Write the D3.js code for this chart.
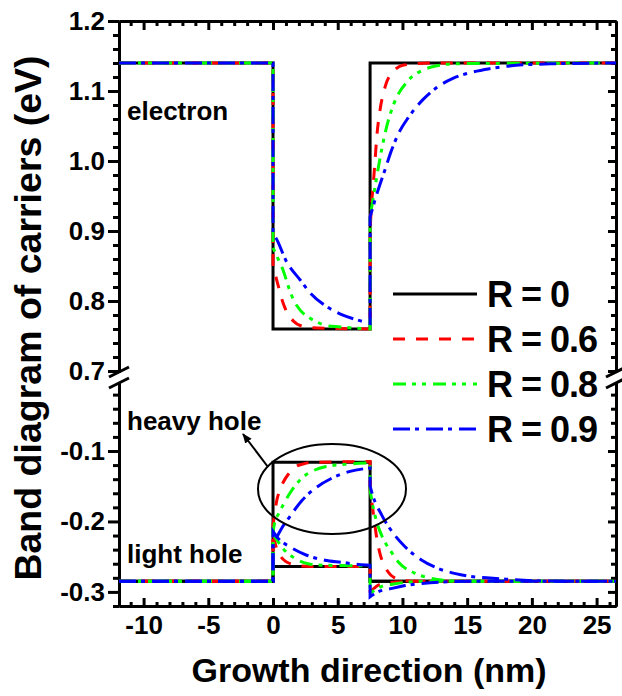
<!DOCTYPE html>
<html>
<head>
<meta charset="utf-8">
<script src="https://cdn.jsdelivr.net/npm/d3@7"></script>
<style>
    body { margin: 0; background: #fff; }
    svg text { font-family: "Liberation Sans", Arial, sans-serif; font-weight: bold; fill: #000; }
</style>
</head>
<body>
<div id="chart"></div>
<script>
// tick labels
const xTicks = [-10, -5, 0, 5, 10, 15, 20, 25];
const yTopTicks = [0.7, 0.8, 0.9, 1.0, 1.1, 1.2];
const yBottomTicks = [-0.3, -0.2, -0.1];
const legendLabels = ["R = 0", "R = 0.6", "R = 0.8", "R = 0.9"];

// conduction band (electron), [position nm, energy eV]
const electronR0 = [[-11.9, 1.14], [0, 1.14], [0, 0.76], [7.5, 0.76], [7.5, 1.14], [26.5, 1.14]];
const electronR06 = [[-11.9, 1.14], [0, 1.14], [0, 0.85], [0.4, 0.822], [0.8, 0.796], [1.2, 0.78], [1.6, 0.771],
    [2.1, 0.765], [3, 0.762], [4.5, 0.761], [7.5, 0.76], [7.5, 0.9], [7.6, 0.935], [7.75, 0.968], [7.88, 1.0],
    [8.01, 1.033], [8.27, 1.073], [8.66, 1.106], [9.3, 1.128], [10.1, 1.137], [12, 1.14], [26.5, 1.14]];
const electronR08 = [[-11.9, 1.14], [0, 1.14], [0, 0.876], [0.4, 0.86], [0.8, 0.843], [1.2, 0.82], [1.6, 0.801],
    [2.1, 0.787], [2.8, 0.776], [3.4, 0.77], [4.1, 0.765], [5.2, 0.763], [6.5, 0.761], [7.5, 0.76], [7.5, 0.92],
    [7.75, 0.948], [8.0, 0.976], [8.4, 1.017], [8.66, 1.04], [9.3, 1.08], [10.45, 1.115], [11.6, 1.13],
    [12.65, 1.136], [14.2, 1.139], [26.5, 1.14]];
const electronR09 = [[-11.9, 1.14], [0, 1.14], [0, 0.895], [0.15, 0.892], [1.05, 0.856], [2.1, 0.83], [2.9, 0.811],
    [4.15, 0.792], [5.4, 0.78], [6.5, 0.773], [7.3, 0.769], [7.5, 0.768], [7.5, 0.92], [7.99, 0.951], [8.66, 0.988],
    [9.17, 1.016], [9.8, 1.043], [10.45, 1.062], [11.6, 1.088], [12.65, 1.105], [13.9, 1.118], [15.2, 1.126],
    [16.8, 1.132], [19, 1.137], [22, 1.139], [26.5, 1.14]];

// valence band, heavy hole
const heavyR0 = [[-11.9, -0.285], [0, -0.285], [0, -0.116], [7.5, -0.116], [7.5, -0.285], [26.5, -0.285]];
const heavyR06 = [[-11.9, -0.285], [0, -0.285], [0, -0.205], [0.33, -0.167], [0.5, -0.157], [0.8, -0.144],
    [1.18, -0.133], [1.7, -0.123], [2.4, -0.118], [3.3, -0.116], [7.5, -0.115], [7.5, -0.155], [7.8, -0.195],
    [8.0, -0.222], [8.3, -0.248], [8.7, -0.266], [9.4, -0.28], [10.3, -0.284], [11.5, -0.285], [26.5, -0.285]];
const heavyR08 = [[-11.9, -0.285], [0, -0.285], [0, -0.215], [0.15, -0.2], [0.4, -0.19], [0.8, -0.176], [1.3, -0.16],
    [2.2, -0.139], [3.0, -0.129], [4.1, -0.122], [5.5, -0.119], [7.5, -0.117], [7.5, -0.155], [7.65, -0.172],
    [8.0, -0.2], [8.5, -0.224], [9.2, -0.245], [9.7, -0.258], [10.9, -0.273], [12, -0.28], [13.5, -0.284],
    [15, -0.285], [26.5, -0.285]];
const heavyR09 = [[-11.9, -0.285], [0, -0.285], [0, -0.232], [0.3, -0.222], [0.66, -0.21], [1.3, -0.193],
    [2.2, -0.171], [3.4, -0.151], [4.5, -0.139], [5.95, -0.129], [7.1, -0.125], [7.5, -0.124], [7.5, -0.15],
    [7.65, -0.16], [8.4, -0.191], [9.3, -0.217], [10.2, -0.236], [11.5, -0.255], [12.8, -0.267], [14.1, -0.274],
    [15.3, -0.278], [16.5, -0.28], [18, -0.282], [20, -0.284], [23, -0.285], [26.5, -0.285]];

// valence band, light hole
const lightR0 = [[-11.9, -0.285], [0, -0.285], [0, -0.264], [7.5, -0.264], [7.5, -0.285], [26.5, -0.285]];
const lightR06 = [[-11.9, -0.285], [0, -0.285], [0, -0.215], [0.28, -0.239], [0.6, -0.25], [1.0, -0.257],
    [1.5, -0.261], [2.0, -0.263], [3, -0.264], [7.5, -0.264], [7.5, -0.298], [7.8, -0.295], [8.0, -0.292],
    [8.5, -0.288], [9.5, -0.286], [11, -0.285], [26.5, -0.285]];
const lightR08 = [[-11.9, -0.285], [0, -0.285], [0, -0.218], [0.4, -0.229], [0.8, -0.239], [1.57, -0.251],
    [2.7, -0.26], [3.8, -0.262], [7.5, -0.263], [7.5, -0.302], [8.0, -0.296], [8.4, -0.292], [9.2, -0.289],
    [10.5, -0.286], [12, -0.285], [26.5, -0.285]];
const lightR09 = [[-11.9, -0.285], [0, -0.285], [0, -0.214], [0.4, -0.224], [1.3, -0.236], [2.6, -0.248],
    [4.0, -0.255], [5.3, -0.258], [6.6, -0.261], [7.5, -0.262], [7.5, -0.307], [8.0, -0.301], [9.2, -0.295],
    [10.2, -0.291], [11.5, -0.288], [13, -0.286], [15.5, -0.285], [26.5, -0.285]];

const series = [
    {label: legendLabels[0], color: "#000000", dash: null, electron: electronR0, heavy: heavyR0, light: lightR0},
    {label: legendLabels[1], color: "#ff0000", dash: "12,11", electron: electronR06, heavy: heavyR06, light: lightR06},
    {label: legendLabels[2], color: "#00ff00", dash: "13,6,4,6,4,7", electron: electronR08, heavy: heavyR08, light: lightR08},
    {label: legendLabels[3], color: "#0000ff", dash: "17,5,4,7", electron: electronR09, heavy: heavyR09, light: lightR09}
];

const width = 622;
const height = 696;
const plotLeft = 119, plotRight = 616;
const plotTop = 21, topBreak = 372, bottomBreak = 383, plotBottom = 606;

const x = d3.scaleLinear().domain([-11.9, 26.5]).range([plotLeft, plotRight]);
const yTop = d3.scaleLinear().domain([0.6986, 1.2]).range([topBreak, plotTop]);
const yBot = d3.scaleLinear().domain([-0.32, -0.0035]).range([plotBottom, bottomBreak]);

const svg = d3.select("#chart").append("svg")
    .attr("width", width)
    .attr("height", height);

// minor tick positions
const xMinor = d3.range(-11, 27).filter(v => v % 5 !== 0);
const yTopMinor = d3.range(70, 121, 2).filter(v => v % 10 !== 0).map(v => v / 100);
const yBotMinor = d3.range(-32, 0, 2).filter(v => v % 10 !== 0).map(v => v / 100);

function styleAxis(g) {
    g.selectAll("path, line").attr("stroke", "#000").attr("stroke-width", 3);
    g.selectAll("text")
        .attr("font-family", "'Liberation Sans', Arial, sans-serif")
        .attr("font-weight", "bold")
        .attr("font-size", 26);
    g.attr("font-size", null).attr("font-family", null);
}

// left axis, two segments
svg.append("g").attr("transform", `translate(${plotLeft},0)`)
    .call(d3.axisLeft(yTop).tickValues(yTopTicks).tickSize(11).tickSizeOuter(0).tickPadding(3)
        .tickFormat(d => d.toFixed(1)))
    .call(styleAxis);
svg.append("g").attr("transform", `translate(${plotLeft},0)`)
    .call(d3.axisLeft(yTop).tickValues(yTopMinor).tickSize(6).tickSizeOuter(0).tickFormat(""))
    .call(styleAxis);
svg.append("g").attr("transform", `translate(${plotLeft},0)`)
    .call(d3.axisLeft(yBot).tickValues(yBottomTicks).tickSize(11).tickSizeOuter(0).tickPadding(3)
        .tickFormat(d => d.toFixed(1)))
    .call(styleAxis);
svg.append("g").attr("transform", `translate(${plotLeft},0)`)
    .call(d3.axisLeft(yBot).tickValues(yBotMinor).tickSize(6).tickSizeOuter(0).tickFormat(""))
    .call(styleAxis);

// right axis, ticks inward
[[yTop, yTopTicks, yTopMinor], [yBot, yBottomTicks, yBotMinor]].forEach(([sc, major, minor]) => {
    svg.append("g").attr("transform", `translate(${plotRight},0)`)
        .call(d3.axisRight(sc).tickValues(major).tickSize(-8).tickSizeOuter(0).tickFormat(""))
        .call(styleAxis);
    svg.append("g").attr("transform", `translate(${plotRight},0)`)
        .call(d3.axisRight(sc).tickValues(minor).tickSize(-5).tickSizeOuter(0).tickFormat(""))
        .call(styleAxis);
});

// bottom axis, ticks inward
svg.append("g").attr("transform", `translate(0,${plotBottom})`)
    .call(d3.axisBottom(x).tickValues(xTicks).tickSize(-8).tickSizeOuter(0).tickPadding(10)
        .tickFormat(d => String(d)))
    .call(styleAxis);
svg.append("g").attr("transform", `translate(0,${plotBottom})`)
    .call(d3.axisBottom(x).tickValues(xMinor).tickSize(-4).tickSizeOuter(0).tickFormat(""))
    .call(styleAxis);

// top axis, ticks inward
svg.append("g").attr("transform", `translate(0,${plotTop})`)
    .call(d3.axisTop(x).tickValues(xTicks).tickSize(-9).tickSizeOuter(0).tickFormat(""))
    .call(styleAxis);
svg.append("g").attr("transform", `translate(0,${plotTop})`)
    .call(d3.axisTop(x).tickValues(xMinor).tickSize(-5).tickSizeOuter(0).tickFormat(""))
    .call(styleAxis);

// break marks
[plotLeft, plotRight].forEach(ax => {
    [topBreak, bottomBreak].forEach(by => {
        svg.append("line")
            .attr("x1", ax - 10).attr("y1", by + 5)
            .attr("x2", ax + 10).attr("y2", by - 5)
            .attr("stroke", "#000").attr("stroke-width", 3);
    });
});

// curves: split at the well walls (vertical jumps), smooth each run, join into one path
function bandPath(data, yScale, smooth) {
    const runs = [[data[0]]];
    for (let i = 1; i < data.length; i++) {
        if (data[i][0] === data[i - 1][0]) runs.push([]);
        runs[runs.length - 1].push(data[i]);
    }
    const ln = d3.line()
        .x(d => x(d[0]))
        .y(d => yScale(d[1]))
        .curve(smooth ? d3.curveMonotoneX : d3.curveLinear);
    return runs.map((run, i) => {
        const d = run.length > 1 ? ln(run) : `M${x(run[0][0])},${yScale(run[0][1])}`;
        return i === 0 ? d : "L" + d.slice(1);
    }).join("");
}

const plot = svg.append("g").attr("class", "curves");
series.forEach((s, i) => {
    [[yTop, s.electron], [yBot, s.light], [yBot, s.heavy]].forEach(([sc, data]) => {
        plot.append("path")
            .attr("d", bandPath(data, sc, i > 0))
            .attr("fill", "none")
            .attr("stroke", s.color)
            .attr("stroke-width", 3)
            .attr("stroke-dasharray", s.dash);
    });
});

// annotations
svg.append("text").attr("x", 127).attr("y", 120).attr("font-size", 26).text("electron");
svg.append("text").attr("x", 127).attr("y", 430).attr("font-size", 26).text("heavy hole");
svg.append("text").attr("x", 127).attr("y", 563).attr("font-size", 26).text("light hole");

svg.append("ellipse")
    .attr("cx", 332).attr("cy", 489).attr("rx", 74).attr("ry", 45)
    .attr("fill", "none").attr("stroke", "#000").attr("stroke-width", 2);

svg.append("defs").append("marker")
    .attr("id", "arrow")
    .attr("viewBox", "0 0 10 10")
    .attr("refX", 9).attr("refY", 5)
    .attr("markerWidth", 5).attr("markerHeight", 5)
    .attr("orient", "auto")
    .append("path").attr("d", "M0,1L10,5L0,9z").attr("fill", "#000");

svg.append("line")
    .attr("x1", 268).attr("y1", 467).attr("x2", 243).attr("y2", 434)
    .attr("stroke", "#000").attr("stroke-width", 2)
    .attr("marker-end", "url(#arrow)");

// legend
const legend = svg.append("g").attr("class", "legend");
series.forEach((s, i) => {
    const ly = 294 + i * 45;
    legend.append("line")
        .attr("x1", 393).attr("x2", 477).attr("y1", ly).attr("y2", ly)
        .attr("stroke", s.color).attr("stroke-width", 3)
        .attr("stroke-dasharray", s.dash);
    legend.append("text")
        .attr("x", 487).attr("y", ly + 13)
        .attr("font-size", 36)
        .attr("letter-spacing", -1)
        .text(s.label);
});

// axis titles
svg.append("text")
    .attr("x", 369).attr("y", 682)
    .attr("text-anchor", "middle")
    .attr("font-size", 34)
    .text("Growth direction (nm)");

svg.append("text")
    .attr("transform", "translate(41,318) rotate(-90)")
    .attr("text-anchor", "middle")
    .attr("font-size", 37.5)
    .text("Band diagram of carriers (eV)");
</script>
</body>
</html>
